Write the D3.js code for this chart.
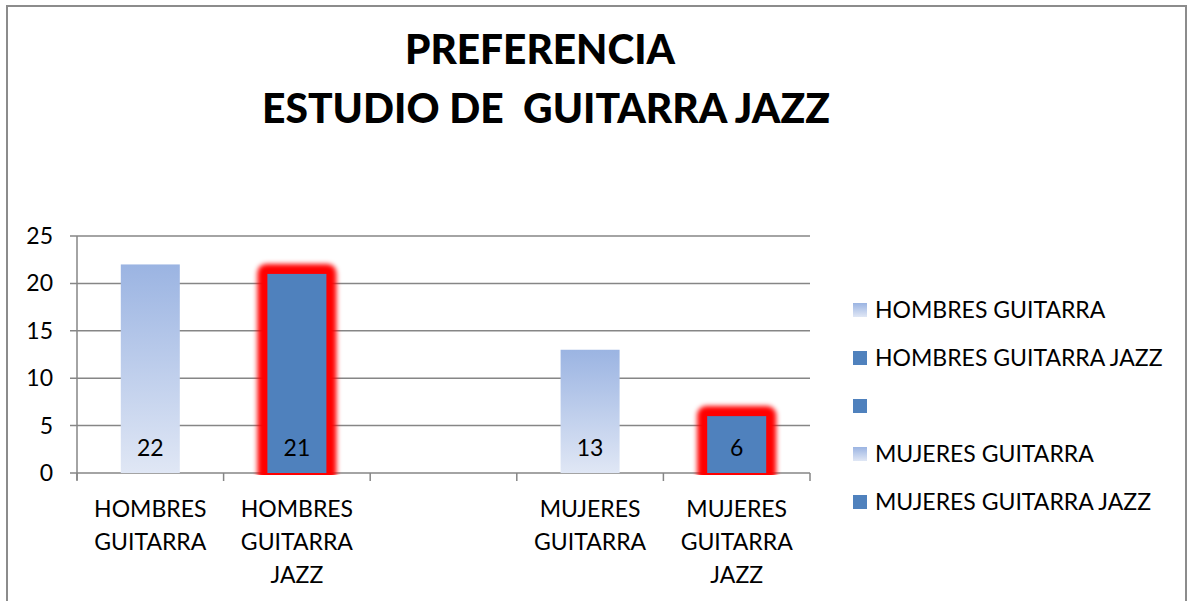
<!DOCTYPE html>
<html><head><meta charset="utf-8">
<script src="https://cdn.jsdelivr.net/npm/d3@7"></script>
<style>body{margin:0;background:#fff}svg{display:block}text{font-family:Lato,"Open Sans",sans-serif}</style>
</head><body><svg id="c" width="1188" height="601"></svg>
<script>
const categories = [["HOMBRES","GUITARRA"],["HOMBRES","GUITARRA","JAZZ"],[""],["MUJERES","GUITARRA"],["MUJERES","GUITARRA","JAZZ"]];
const values = [22, 21, null, 13, 6];
const styles = ["light","dark",null,"light","dark"];
const legendLabels = ["HOMBRES GUITARRA","HOMBRES GUITARRA JAZZ","","MUJERES GUITARRA","MUJERES GUITARRA JAZZ"];
const legendStyles = ["light","dark","dark","light","dark"];
const yTicks = [0,5,10,15,20,25];
const titleLines = ["PREFERENCIA","ESTUDIO DE  GUITARRA JAZZ"];

const svg = d3.select("#c");
const defs = svg.append("defs");
const g1 = defs.append("linearGradient").attr("id","lg").attr("x1",0).attr("y1",0).attr("x2",0).attr("y2",1);
g1.append("stop").attr("offset","0%").attr("stop-color","#9bb4e2");
g1.append("stop").attr("offset","100%").attr("stop-color","#e0e7f5");
defs.append("filter").attr("id","blur").attr("x","-50%").attr("y","-50%").attr("width","200%").attr("height","200%")
  .append("feGaussianBlur").attr("stdDeviation",2.6);
defs.append("clipPath").attr("id","clipG").append("rect").attr("x",0).attr("y",0).attr("width",1188).attr("height",475);

// frame
svg.append("rect").attr("x",7).attr("y",6).attr("width",1179).attr("height",620)
  .attr("fill","none").attr("stroke","#8c8c8c").attr("stroke-width",2);

// title
svg.append("text").attr("x",540).attr("y",64).attr("text-anchor","middle")
  .attr("font-size",41).attr("font-weight","900").attr("textLength",270).attr("lengthAdjust","spacingAndGlyphs")
  .text(titleLines[0]);
svg.append("text").attr("x",546).attr("y",123).attr("text-anchor","middle")
  .attr("font-size",41).attr("font-weight","900").attr("textLength",568).attr("lengthAdjust","spacingAndGlyphs")
  .style("white-space","pre").text(titleLines[1]);

const x = d3.scaleBand().domain(d3.range(categories.length)).range([77,810]).paddingInner(0).paddingOuter(0);
const y = d3.scaleLinear().domain([0,25]).range([473,236]);

// gridlines
svg.append("g").selectAll("line").data(yTicks).join("line")
  .attr("x1",70).attr("x2",810).attr("y1",d=>y(d)).attr("y2",d=>y(d))
  .attr("stroke","#868686").attr("stroke-width",1.5);
// y axis line
svg.append("line").attr("x1",77).attr("x2",77).attr("y1",236).attr("y2",480).attr("stroke","#868686").attr("stroke-width",1.5);
// x ticks
const xt = d3.range(categories.length+1).map(i=> i<categories.length ? x(i) : x.range()[1]);
svg.append("g").selectAll("line").data(xt).join("line")
  .attr("x1",d=>d).attr("x2",d=>d).attr("y1",473).attr("y2",481).attr("stroke","#868686").attr("stroke-width",1.5);

// y labels
svg.append("g").selectAll("text").data(yTicks).join("text")
  .attr("x",53).attr("y",d=>y(d)+8).attr("text-anchor","end").attr("font-size",23).attr("fill","#000").text(d=>d);

const bw = 59;
const data = values.map((v,i)=>({v,i,s:styles[i]})).filter(d=>d.v!=null);
// glow
svg.append("g").attr("clip-path","url(#clipG)").selectAll("rect").data(data.filter(d=>d.s==="dark")).join("rect")
  .attr("x",d=>x(d.i)+x.bandwidth()/2-bw/2-10).attr("y",d=>y(d.v)-10)
  .attr("width",bw+20).attr("height",d=>y(0)-y(d.v)+20).attr("rx",9)
  .attr("fill","#ff0000").attr("filter","url(#blur)");
// bars
svg.append("g").selectAll("rect").data(data).join("rect")
  .attr("x",d=>x(d.i)+x.bandwidth()/2-bw/2).attr("y",d=>y(d.v))
  .attr("width",bw).attr("height",d=>y(0)-y(d.v))
  .attr("fill",d=>d.s==="dark"?"#4f81bd":"url(#lg)");
// value labels
svg.append("g").selectAll("text").data(data).join("text")
  .attr("x",d=>x(d.i)+x.bandwidth()/2).attr("y",456).attr("text-anchor","middle")
  .attr("font-size",23).attr("fill","#000").text(d=>d.v);

// x labels
const xl = svg.append("g").selectAll("text").data(categories).join("text")
  .attr("text-anchor","middle").attr("font-size",23).attr("fill","#000");
xl.each(function(lines,i){
  const t = d3.select(this);
  lines.forEach((l,k)=>t.append("tspan").attr("x",x(i)+x.bandwidth()/2).attr("y",517+k*33).text(l));
});

// legend
const lg = svg.append("g").selectAll("g").data(legendLabels).join("g")
  .attr("transform",(d,i)=>`translate(853,${310+i*48})`);
lg.append("rect").attr("x",0).attr("y",-7).attr("width",14).attr("height",14)
  .attr("fill",(d,i)=>legendStyles[i]==="dark"?"#4f81bd":"url(#lg)");
lg.append("text").attr("x",22).attr("y",8).attr("font-size",23).attr("fill","#000").text(d=>d);
</script></body></html>
